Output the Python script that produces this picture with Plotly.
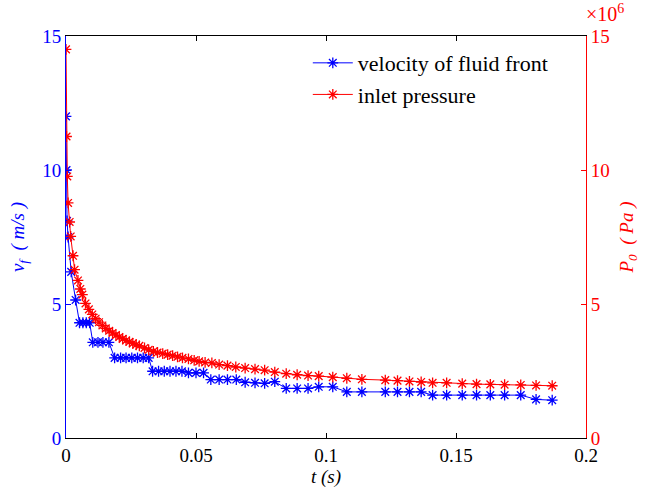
import plotly.graph_objects as go

# velocity of fluid front (m/s)
t_v = [0.0000, 0.0002, 0.0004, 0.0008, 0.0020, 0.0037,
       0.0052, 0.0065, 0.0078, 0.0091,
       0.0103, 0.0123, 0.0142, 0.0165,
       0.0187, 0.0210, 0.0231, 0.0253, 0.0275, 0.0297, 0.0318,
       0.0333, 0.0356, 0.0378, 0.0400, 0.0423, 0.0446, 0.0471, 0.0500, 0.0529,
       0.0557, 0.0589, 0.0621, 0.0655, 0.0689, 0.0727,
       0.0764, 0.0803, 0.0847, 0.0889, 0.0931, 0.0972, 0.1026, 0.1080, 0.1138,
       0.1228, 0.1275, 0.1321, 0.1366, 0.1410, 0.1464, 0.1524, 0.1579, 0.1632,
       0.1687, 0.1749, 0.1808, 0.1870]
v_f = [12.0, 10.0, 8.1, 7.5, 6.2, 5.15,
       4.3, 4.3, 4.3, 4.3,
       3.57, 3.57, 3.57, 3.57,
       2.99, 2.99, 2.99, 2.99, 2.99, 2.99, 2.99,
       2.49, 2.49, 2.49, 2.49, 2.49, 2.49, 2.43, 2.43, 2.43,
       2.18, 2.18, 2.18, 2.18, 2.08, 2.06,
       2.04, 2.10, 1.85, 1.85, 1.85, 1.91, 1.91, 1.72, 1.72,
       1.72, 1.72, 1.72, 1.72, 1.60, 1.60, 1.60, 1.60, 1.60,
       1.60, 1.60, 1.44, 1.41]

# inlet pressure (x10^6 Pa)
t_p = [0.0000, 0.0002, 0.0005, 0.0008, 0.0014, 0.0018, 0.0027, 0.0033, 0.0046, 0.0055, 0.0063,
       0.0075, 0.0088, 0.0101, 0.0114, 0.0127, 0.0140, 0.0153, 0.0166, 0.0179, 0.0192,
       0.0205, 0.0218, 0.0231, 0.0244, 0.0257, 0.0270,
       0.0282, 0.0302, 0.0318, 0.0336, 0.0352, 0.0372, 0.0391, 0.0410, 0.0429, 0.0448,
       0.0471, 0.0493, 0.0512, 0.0535, 0.0561, 0.0589, 0.0621, 0.0653, 0.0689, 0.0727,
       0.0764, 0.0803, 0.0847, 0.0889, 0.0931, 0.0972, 0.1026, 0.1080, 0.1138,
       0.1228, 0.1275, 0.1321, 0.1366, 0.1410, 0.1464, 0.1524, 0.1579, 0.1632,
       0.1687, 0.1749, 0.1808, 0.1870]
p_0 = [14.5, 11.25, 9.76, 8.77, 8.06, 7.52, 6.80, 6.28, 5.88, 5.56, 5.35,
       5.02, 4.80, 4.61, 4.45, 4.32, 4.20, 4.09, 4.00, 3.92, 3.84,
       3.77, 3.70, 3.64, 3.59, 3.53, 3.48,
       3.44, 3.36, 3.29, 3.23, 3.19, 3.15, 3.11, 3.07, 3.03, 2.99,
       2.95, 2.90, 2.86, 2.82, 2.80, 2.74, 2.70, 2.65, 2.61, 2.57,
       2.53, 2.46, 2.40, 2.36, 2.33, 2.31, 2.27, 2.23, 2.19,
       2.16, 2.14, 2.11, 2.09, 2.06, 2.06, 2.03, 2.01, 2.00,
       1.99, 1.98, 1.96, 1.95]

x_ticks = [0, 0.05, 0.1, 0.15, 0.2]
x_ticklabels = ["0", "0.05", "0.1", "0.15", "0.2"]
y_ticks = [0, 5, 10, 15]
y_ticklabels = ["0", "5", "10", "15"]

FONT = "'Liberation Serif', 'Times New Roman', Times, serif"
BLUE = "#0000ff"
RED = "#ff0000"
TS = 19

fig = go.Figure()
fig.add_trace(go.Scatter(
    x=t_v, y=v_f, name="velocity of fluid front", mode="lines+markers",
    line=dict(color=BLUE, width=1),
    marker=dict(symbol="asterisk-open", size=9, color=BLUE, line=dict(color=BLUE, width=1.3)),
))
fig.add_trace(go.Scatter(
    x=t_p, y=p_0, name="inlet pressure", mode="lines+markers", yaxis="y2",
    line=dict(color=RED, width=1),
    marker=dict(symbol="asterisk-open", size=9, color=RED, line=dict(color=RED, width=1.3)),
))

fig.update_layout(
    width=645, height=491,
    margin=dict(l=66, r=57, t=36, b=53),
    paper_bgcolor="white", plot_bgcolor="white",
    font=dict(family=FONT, size=TS, color="black"),
    showlegend=True,
    legend=dict(x=0.465, y=0.985, xanchor="left", yanchor="top",
                bgcolor="rgba(0,0,0,0)", borderwidth=0,
                font=dict(family=FONT, size=22, color="black"),
                tracegroupgap=0, itemwidth=40),
    xaxis=dict(range=[0, 0.2], tickvals=x_ticks, ticktext=x_ticklabels,
               showline=True, linecolor="black", linewidth=1, mirror="ticks",
               ticks="inside", ticklen=5, tickcolor="black", showgrid=False, zeroline=False,
               tickfont=dict(family=FONT, size=TS, color="black"),
               title=dict(text="<i>t (s)</i>", font=dict(family=FONT, size=TS, color="black"), standoff=0)),
    yaxis=dict(range=[0, 15], tickvals=y_ticks, ticktext=y_ticklabels,
               showline=True, linecolor=BLUE, linewidth=1,
               ticks="inside", ticklen=5, tickcolor=BLUE, showgrid=False, zeroline=False,
               tickfont=dict(family=FONT, size=TS, color=BLUE),
               title=dict(text="<i>v<sub>f</sub>  ( m/s )</i>", font=dict(family=FONT, size=TS, color=BLUE), standoff=12)),
    yaxis2=dict(range=[0, 15], tickvals=y_ticks, ticktext=y_ticklabels,
                overlaying="y", side="right", anchor="x",
                showline=True, linecolor=RED, linewidth=1,
                ticks="inside", ticklen=5, tickcolor=RED, showgrid=False, zeroline=False,
                tickfont=dict(family=FONT, size=TS, color=RED),
                title=dict(text="<i>P<sub>0</sub>  ( Pa )</i>", font=dict(family=FONT, size=TS, color=RED), standoff=10)),
    annotations=[dict(text="×10<sup>6</sup>", xref="paper", yref="paper", x=1.0, y=1.0,
                      xanchor="left", yanchor="bottom", showarrow=False,
                      font=dict(family=FONT, size=20, color=RED), xshift=-2, yshift=9)],
)

fig.write_html("out.html")
